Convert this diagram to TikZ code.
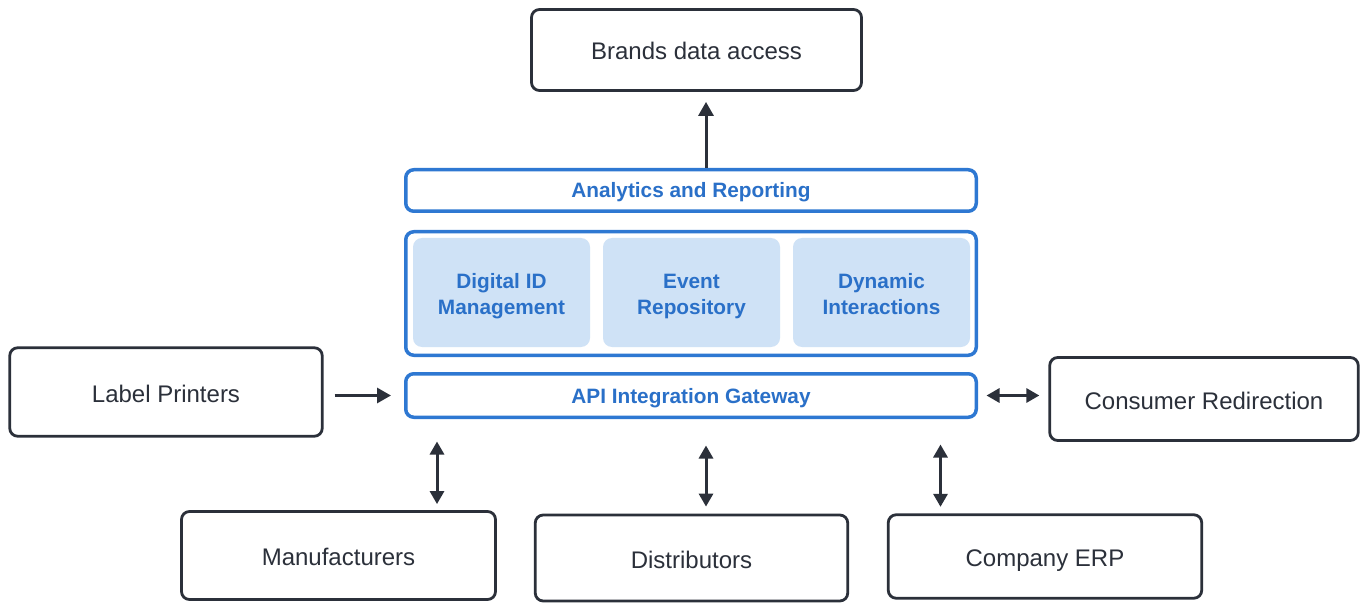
\documentclass[tikz,border=0pt]{standalone}
\usepackage{fontspec}
\setmainfont{Liberation Sans}
\usetikzlibrary{arrows.meta}
\definecolor{ink}{HTML}{2B303A}
\definecolor{azure}{HTML}{2E78D2}
\definecolor{paleblue}{HTML}{CFE2F6}
\definecolor{bluetext}{HTML}{2A70C8}
% struts fixing the first baseline and the last depth of two-line module labels
\newcommand\topstrut{\rule{0pt}{23pt}}
\newcommand\botstrut{\rule[-5pt]{0pt}{5pt}}

\begin{document}
\begin{tikzpicture}[x=1pt,y=-1pt,
  extbox/.style={draw=ink, line width=2.8pt, rounded corners=8pt, fill=white,
    text=ink, font=\fontsize{24}{28}\selectfont, inner sep=0pt,
    text height=20pt, text depth=0pt},
  layer/.style={draw=azure, line width=3.5pt, rounded corners=8pt, fill=white,
    text=bluetext, font=\bfseries\fontsize{20.8}{24}\selectfont, inner sep=0pt,
    minimum width=570.5pt, text height=15pt, text depth=0pt},
  module/.style={fill=paleblue, rounded corners=9pt, text=bluetext,
    font=\bfseries\fontsize{20.8}{25}\selectfont, align=center, inner sep=0pt,
    minimum width=177pt, minimum height=109pt},
  oneway/.style={draw=ink, line width=3pt, -{Triangle[length=14pt,width=15pt]}},
  twoway/.style={draw=ink, line width=3pt,
    {Triangle[length=13pt,width=14pt]}-{Triangle[length=13pt,width=14pt]}}
]
\useasboundingbox (0,0) rectangle (1366,604);

% external systems
\node[extbox, minimum width=330pt, minimum height=81pt] (bd) at (696.5,50) {Brands data access};
\node[extbox, minimum width=312.5pt, minimum height=88.5pt] (lp) at (166,392) {Label Printers};
\node[extbox, minimum width=308.5pt, minimum height=83pt] (cr) at (1204,399) {Consumer Redirection};
\node[extbox, minimum width=314pt, minimum height=88pt] (mf) at (338.5,555.5) {Manufacturers};
\node[extbox, minimum width=312.5pt, minimum height=86pt] (ds) at (691.5,558) {Distributors};
\node[extbox, minimum width=313.5pt, minimum height=83.5pt] (erp) at (1045,556.5) {Company ERP};

% platform layers
\node[layer, minimum height=41.5pt] (an) at (691,190.5) {Analytics and Reporting};
\node[layer, minimum height=123.5pt] (core) at (691,293.5) {};
\node[layer, minimum height=43.5pt] (api) at (691,395.5) {API Integration Gateway};

% core modules
\node[module] (did) at (501.5,292.5) {\topstrut Digital ID\\Management\botstrut};
\node[module] (ev) at (691.5,292.5) {\topstrut Event\\Repository\botstrut};
\node[module] (dyn) at (881.5,292.5) {\topstrut Dynamic\\Interactions\botstrut};

% connectors
\draw[oneway, shorten >=10pt] ([xshift=15pt]an.north) -- ([xshift=15pt]an.north |- bd.south);
\draw[oneway, shorten <=11pt, shorten >=13pt] (lp.east |- api.west) -- (api.west);
\draw[twoway, shorten <=8.5pt, shorten >=9pt] (api.east) -- (cr.west |- api.east);
\draw[twoway, shorten <=22.5pt, shorten >=6pt] ([xshift=33pt]api.south west) -- ([xshift=33pt]api.south west |- mf.north);
\draw[twoway, shorten <=26.5pt, shorten >=7pt] ([xshift=15pt]api.south) -- ([xshift=15pt]api.south |- ds.north);
\draw[twoway, shorten <=25.5pt, shorten >=6.5pt] ([xshift=-37.5pt]api.south east) -- ([xshift=-37.5pt]api.south east |- erp.north);
\end{tikzpicture}
\end{document}
